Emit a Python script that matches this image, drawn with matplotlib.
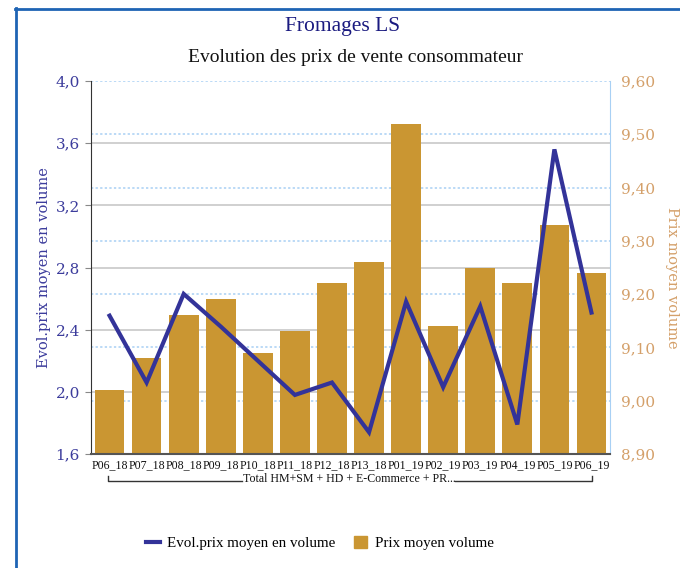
import matplotlib
matplotlib.use("Agg")
import matplotlib.pyplot as plt
from matplotlib.ticker import FuncFormatter, FixedLocator
from matplotlib.lines import Line2D
from matplotlib.patches import Patch

categories = ["P06_18", "P07_18", "P08_18", "P09_18", "P10_18", "P11_18", "P12_18",
              "P13_18", "P01_19", "P02_19", "P03_19", "P04_19", "P05_19", "P06_19"]
prix_moyen = [9.02, 9.08, 9.16, 9.19, 9.09, 9.13, 9.22, 9.26, 9.52, 9.14, 9.25, 9.22, 9.33, 9.24]
evol_prix = [2.49, 2.06, 2.63, 2.42, 2.20, 1.98, 2.06, 1.74, 2.58, 2.03, 2.55, 1.79, 3.56, 2.51]
left_ticks = [1.6, 2.0, 2.4, 2.8, 3.2, 3.6, 4.0]
right_ticks = [8.90, 9.00, 9.10, 9.20, 9.30, 9.40, 9.50, 9.60]
group_label = "Total HM+SM + HD + E-Commerce + PR..."

BAR = "#CA9632"
LINE = "#333399"
LEFTC = "#3C3C9C"
RIGHTC = "#D4A06A"
SERIF = ["DejaVu Serif"]
TSERIF = ["Liberation Serif"]

fig = plt.figure(figsize=(6.8, 5.68), dpi=100)
# outer frame
fig.add_artist(plt.Line2D([15.5/680, 15.5/680], [0, 1 - 8/568], transform=fig.transFigure, color="#1E64B4", lw=2))
fig.add_artist(plt.Line2D([15/680, 1], [1 - 8.5/568, 1 - 8.5/568], transform=fig.transFigure, color="#1E64B4", lw=2))

ax = fig.add_axes([91/680, 1 - 454/568, (610 - 91)/680, (454 - 81)/568])
ax2 = ax.twinx()

x = list(range(len(categories)))
ax2.bar(x, prix_moyen, width=0.8, color=BAR, zorder=2)
ax2.set_ylim(8.90, 9.60)
ax.set_ylim(1.6, 4.0)
ax.set_xlim(-0.5, len(categories) - 0.5)

# grids
for v in left_ticks[1:-1]:
    ax2.plot([0, 1], [(v - 1.6) / 2.4] * 2, transform=ax2.transAxes, color="#C8C8C8", lw=1.2, zorder=1)
for v in right_ticks[1:]:
    ax2.axhline(v, color="#A8D0F4", lw=1.1, ls=(0, (1.5, 1.5)), zorder=1)

# line on top
ax.set_zorder(ax2.get_zorder() + 1)
ax.patch.set_visible(False)
ax2.patch.set_visible(True)
ax.plot(x, evol_prix, color=LINE, lw=3, solid_joinstyle="miter", zorder=5)

fmt1 = FuncFormatter(lambda v, p: f"{v:.1f}".replace(".", ","))
fmt2 = FuncFormatter(lambda v, p: f"{v:.2f}".replace(".", ","))
ax.yaxis.set_major_locator(FixedLocator(left_ticks))
ax.yaxis.set_major_formatter(fmt1)
ax2.yaxis.set_major_locator(FixedLocator(right_ticks))
ax2.yaxis.set_major_formatter(fmt2)
ax.tick_params(axis="y", colors=LEFTC, labelsize=11, length=4, width=0.8, pad=4)
for t in ax.get_yticklabels():
    t.set_family(SERIF)
ax.tick_params(axis="y", color="#888888")
ax2.tick_params(axis="y", colors=RIGHTC, labelsize=11, length=0, pad=8)
for t in ax2.get_yticklabels():
    t.set_family(SERIF)

ax.set_xticks(x)
ax.set_xticklabels(categories, family=TSERIF, fontsize=8.6, color="#111111")
ax.tick_params(axis="x", length=0, pad=4)

for a in (ax, ax2):
    a.spines["top"].set_visible(False)
ax2.spines["left"].set_visible(False)
ax2.spines["bottom"].set_visible(False)
ax.spines["right"].set_visible(False)
ax2.spines["right"].set_color("#A8D0F4")
ax.spines["left"].set_color("#333333")
ax.spines["bottom"].set_color("#555555")
ax.spines["bottom"].set_linewidth(1.5)

ax.set_ylabel("Evol.prix moyen en volume", family=SERIF, fontsize=10.5, color=LEFTC, labelpad=3)
fig.text(672/680, 1 - 278/568, "Prix moyen volume", family=SERIF, fontsize=10.5, color=RIGHTC,
         rotation=270, ha="center", va="center")

# group bracket
yb = 1 - 481/568
yt = 1 - 476/568
xl, xr = 108/680, 592/680
fig.add_artist(plt.Line2D([xl, xl, 242/680], [yt, yb, yb], transform=fig.transFigure, color="#333333", lw=1))
fig.add_artist(plt.Line2D([455/680, xr, xr], [yb, yb, yt], transform=fig.transFigure, color="#333333", lw=1))
fig.text(349/680, 1 - 479/568, group_label, family=TSERIF, fontsize=8.6, color="#111111", ha="center", va="center")

fig.text(343/680, 1 - 27/568, "Fromages LS", family=TSERIF, fontsize=15.5, color="#1A1A80", ha="center", va="center")
fig.text(355/680, 1 - 57/568, "Evolution des prix de vente consommateur", family=TSERIF, fontsize=14,
         color="#111111", ha="center", va="center")

handles = [Line2D([0], [0], color=LINE, lw=3), Patch(color=BAR)]
fig.legend(handles, ["Evol.prix moyen en volume", "Prix moyen volume"], loc="center",
           bbox_to_anchor=(320/680, 1 - 543/568), ncol=2, frameon=False,
           prop={"family": TSERIF, "size": 10.8}, handlelength=0.9, handleheight=0.9,
           columnspacing=1.2, handletextpad=0.5)

fig.savefig("out.png", dpi=100)
